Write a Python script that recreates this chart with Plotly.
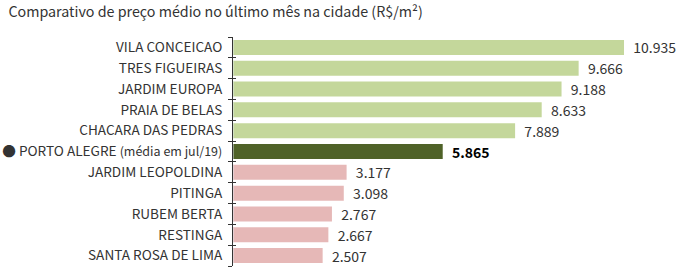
import plotly.graph_objects as go

categories = ["VILA CONCEICAO", "TRES FIGUEIRAS", "JARDIM EUROPA", "PRAIA DE BELAS",
              "CHACARA DAS PEDRAS", "PORTO ALEGRE", "JARDIM LEOPOLDINA",
              "PITINGA", "RUBEM BERTA", "RESTINGA", "SANTA ROSA DE LIMA"]
tick_labels = ["VILA CONCEICAO", "TRES FIGUEIRAS", "JARDIM EUROPA", "PRAIA DE BELAS",
               "CHACARA DAS PEDRAS",
               "● PORTO ALEGRE <span style='font-size:12.5px'>(média em jul/19)</span>",
               "JARDIM LEOPOLDINA", "PITINGA", "RUBEM BERTA", "RESTINGA", "SANTA ROSA DE LIMA"]
values = [10935, 9666, 9188, 8633, 7889, 5865, 3177, 3098, 2767, 2667, 2507]
value_labels = ["10.935", "9.666", "9.188", "8.633", "7.889", "<b>5.865</b>",
                "3.177", "3.098", "2.767", "2.667", "2.507"]
groups = ["top"] * 5 + ["city"] + ["bottom"] * 5

color_map = {"top": "#c4d79b", "city": "#4f6228", "bottom": "#e6b8b7"}
colors = [color_map[g] for g in groups]
text_colors = ["#000000" if g == "city" else "#333333" for g in groups]

FONT = "Noto Sans CJK JP"

fig = go.Figure()
fig.add_trace(go.Bar(
    y=categories, x=values, orientation="h",
    marker=dict(color=colors, line=dict(width=0)),
    width=0.72,
    text=["\u00a0\u00a0" + t for t in value_labels], textposition="outside",
    constraintext="none",
    textfont=dict(family=FONT, size=14, color=text_colors),
    cliponaxis=False, hoverinfo="skip",
))
# invisible trace for crossing tick marks on second y axis
fig.add_trace(go.Bar(y=categories, x=[0] * len(categories), orientation="h",
                     yaxis="y2", marker=dict(color="rgba(0,0,0,0)"), hoverinfo="skip",
                     showlegend=False))

fig.update_layout(
    width=700, height=273,
    margin=dict(l=233, r=0, t=37, b=7),
    paper_bgcolor="white", plot_bgcolor="white",
    showlegend=False,
    font=dict(family=FONT, color="#333333", size=13),
    title=dict(text="Comparativo de preço médio no último mês na cidade (R$/m²)",
               x=0.012, xanchor="left", y=0.955, yanchor="middle",
               font=dict(family=FONT, size=14.3, color="#333333")),
    xaxis=dict(range=[0, 13060], visible=False, showgrid=False),
    yaxis=dict(type="category", categoryorder="array", categoryarray=categories,
               tickmode="array", tickvals=categories, ticktext=tick_labels,
               autorange=False, range=[10.5, -0.5], automargin=False,
               showline=True, linecolor="#333333", linewidth=1,
               ticks="outside", ticklen=4, tickcolor="#333333", tickson="boundaries",
               ticklabelstandoff=7,
               tickfont=dict(family=FONT, size=13.6, color="#333333"), showgrid=False),
    yaxis2=dict(type="category", categoryorder="array", categoryarray=categories,
                overlaying="y", anchor="x", side="left", matches="y",
                autorange=False, range=[10.5, -0.5], automargin=False,
                showline=False, ticks="inside", ticklen=3, tickcolor="#333333",
                tickson="boundaries", showticklabels=False, showgrid=False),
    bargap=0.28,
)

fig.write_html("out.html")
